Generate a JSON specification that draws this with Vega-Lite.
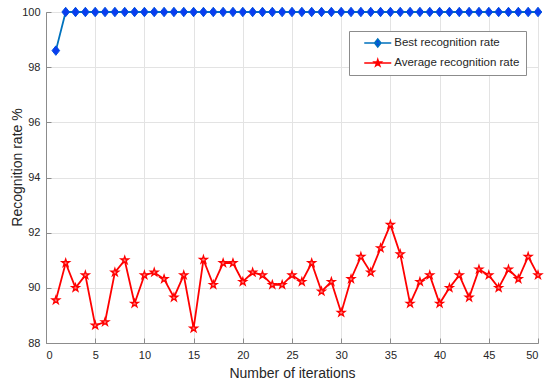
{
  "$schema": "https://vega.github.io/schema/vega-lite/v6.json",
  "width": 492,
  "height": 331,
  "autosize": {"type": "none"},
  "padding": {"left": 46, "top": 12, "right": 12, "bottom": 41},
  "background": "white",
  "config": {
    "font": "Liberation Sans",
    "view": {"stroke": "#8c8c8c", "strokeWidth": 1},
    "axis": {
      "labelFont": "Liberation Sans",
      "titleFont": "Liberation Sans",
      "labelFontSize": 11,
      "titleFontSize": 14,
      "titleFontWeight": "normal",
      "labelColor": "#262626",
      "titleColor": "#262626",
      "domainColor": "#8c8c8c",
      "tickColor": "#8c8c8c",
      "gridColor": "#e3e3e3",
      "gridOpacity": 1,
      "tickSize": -5,
      "labelPadding": 11
    }
  },
  "data": {
    "values": [
      {"iter": 1, "series": "Best recognition rate", "rate": 98.6},
      {"iter": 2, "series": "Best recognition rate", "rate": 100},
      {"iter": 3, "series": "Best recognition rate", "rate": 100},
      {"iter": 4, "series": "Best recognition rate", "rate": 100},
      {"iter": 5, "series": "Best recognition rate", "rate": 100},
      {"iter": 6, "series": "Best recognition rate", "rate": 100},
      {"iter": 7, "series": "Best recognition rate", "rate": 100},
      {"iter": 8, "series": "Best recognition rate", "rate": 100},
      {"iter": 9, "series": "Best recognition rate", "rate": 100},
      {"iter": 10, "series": "Best recognition rate", "rate": 100},
      {"iter": 11, "series": "Best recognition rate", "rate": 100},
      {"iter": 12, "series": "Best recognition rate", "rate": 100},
      {"iter": 13, "series": "Best recognition rate", "rate": 100},
      {"iter": 14, "series": "Best recognition rate", "rate": 100},
      {"iter": 15, "series": "Best recognition rate", "rate": 100},
      {"iter": 16, "series": "Best recognition rate", "rate": 100},
      {"iter": 17, "series": "Best recognition rate", "rate": 100},
      {"iter": 18, "series": "Best recognition rate", "rate": 100},
      {"iter": 19, "series": "Best recognition rate", "rate": 100},
      {"iter": 20, "series": "Best recognition rate", "rate": 100},
      {"iter": 21, "series": "Best recognition rate", "rate": 100},
      {"iter": 22, "series": "Best recognition rate", "rate": 100},
      {"iter": 23, "series": "Best recognition rate", "rate": 100},
      {"iter": 24, "series": "Best recognition rate", "rate": 100},
      {"iter": 25, "series": "Best recognition rate", "rate": 100},
      {"iter": 26, "series": "Best recognition rate", "rate": 100},
      {"iter": 27, "series": "Best recognition rate", "rate": 100},
      {"iter": 28, "series": "Best recognition rate", "rate": 100},
      {"iter": 29, "series": "Best recognition rate", "rate": 100},
      {"iter": 30, "series": "Best recognition rate", "rate": 100},
      {"iter": 31, "series": "Best recognition rate", "rate": 100},
      {"iter": 32, "series": "Best recognition rate", "rate": 100},
      {"iter": 33, "series": "Best recognition rate", "rate": 100},
      {"iter": 34, "series": "Best recognition rate", "rate": 100},
      {"iter": 35, "series": "Best recognition rate", "rate": 100},
      {"iter": 36, "series": "Best recognition rate", "rate": 100},
      {"iter": 37, "series": "Best recognition rate", "rate": 100},
      {"iter": 38, "series": "Best recognition rate", "rate": 100},
      {"iter": 39, "series": "Best recognition rate", "rate": 100},
      {"iter": 40, "series": "Best recognition rate", "rate": 100},
      {"iter": 41, "series": "Best recognition rate", "rate": 100},
      {"iter": 42, "series": "Best recognition rate", "rate": 100},
      {"iter": 43, "series": "Best recognition rate", "rate": 100},
      {"iter": 44, "series": "Best recognition rate", "rate": 100},
      {"iter": 45, "series": "Best recognition rate", "rate": 100},
      {"iter": 46, "series": "Best recognition rate", "rate": 100},
      {"iter": 47, "series": "Best recognition rate", "rate": 100},
      {"iter": 48, "series": "Best recognition rate", "rate": 100},
      {"iter": 49, "series": "Best recognition rate", "rate": 100},
      {"iter": 50, "series": "Best recognition rate", "rate": 100},
      {"iter": 1, "series": "Average recognition rate", "rate": 89.55},
      {"iter": 2, "series": "Average recognition rate", "rate": 90.9},
      {"iter": 3, "series": "Average recognition rate", "rate": 90.0},
      {"iter": 4, "series": "Average recognition rate", "rate": 90.46},
      {"iter": 5, "series": "Average recognition rate", "rate": 88.64},
      {"iter": 6, "series": "Average recognition rate", "rate": 88.76},
      {"iter": 7, "series": "Average recognition rate", "rate": 90.56},
      {"iter": 8, "series": "Average recognition rate", "rate": 91.0},
      {"iter": 9, "series": "Average recognition rate", "rate": 89.43},
      {"iter": 10, "series": "Average recognition rate", "rate": 90.46},
      {"iter": 11, "series": "Average recognition rate", "rate": 90.56},
      {"iter": 12, "series": "Average recognition rate", "rate": 90.32},
      {"iter": 13, "series": "Average recognition rate", "rate": 89.65},
      {"iter": 14, "series": "Average recognition rate", "rate": 90.46},
      {"iter": 15, "series": "Average recognition rate", "rate": 88.53},
      {"iter": 16, "series": "Average recognition rate", "rate": 91.02},
      {"iter": 17, "series": "Average recognition rate", "rate": 90.11},
      {"iter": 18, "series": "Average recognition rate", "rate": 90.9},
      {"iter": 19, "series": "Average recognition rate", "rate": 90.9},
      {"iter": 20, "series": "Average recognition rate", "rate": 90.22},
      {"iter": 21, "series": "Average recognition rate", "rate": 90.56},
      {"iter": 22, "series": "Average recognition rate", "rate": 90.46},
      {"iter": 23, "series": "Average recognition rate", "rate": 90.11},
      {"iter": 24, "series": "Average recognition rate", "rate": 90.11},
      {"iter": 25, "series": "Average recognition rate", "rate": 90.46},
      {"iter": 26, "series": "Average recognition rate", "rate": 90.22},
      {"iter": 27, "series": "Average recognition rate", "rate": 90.9},
      {"iter": 28, "series": "Average recognition rate", "rate": 89.87},
      {"iter": 29, "series": "Average recognition rate", "rate": 90.22},
      {"iter": 30, "series": "Average recognition rate", "rate": 89.1},
      {"iter": 31, "series": "Average recognition rate", "rate": 90.32},
      {"iter": 32, "series": "Average recognition rate", "rate": 91.13},
      {"iter": 33, "series": "Average recognition rate", "rate": 90.56},
      {"iter": 34, "series": "Average recognition rate", "rate": 91.44},
      {"iter": 35, "series": "Average recognition rate", "rate": 92.29},
      {"iter": 36, "series": "Average recognition rate", "rate": 91.22},
      {"iter": 37, "series": "Average recognition rate", "rate": 89.43},
      {"iter": 38, "series": "Average recognition rate", "rate": 90.22},
      {"iter": 39, "series": "Average recognition rate", "rate": 90.46},
      {"iter": 40, "series": "Average recognition rate", "rate": 89.43},
      {"iter": 41, "series": "Average recognition rate", "rate": 90.0},
      {"iter": 42, "series": "Average recognition rate", "rate": 90.46},
      {"iter": 43, "series": "Average recognition rate", "rate": 89.65},
      {"iter": 44, "series": "Average recognition rate", "rate": 90.67},
      {"iter": 45, "series": "Average recognition rate", "rate": 90.46},
      {"iter": 46, "series": "Average recognition rate", "rate": 90.0},
      {"iter": 47, "series": "Average recognition rate", "rate": 90.67},
      {"iter": 48, "series": "Average recognition rate", "rate": 90.32},
      {"iter": 49, "series": "Average recognition rate", "rate": 91.13},
      {"iter": 50, "series": "Average recognition rate", "rate": 90.46}
    ]
  },
  "encoding": {
    "x": {
      "field": "iter",
      "type": "quantitative",
      "scale": {"domain": [0, 50], "nice": false},
      "axis": {
        "title": "Number of iterations",
        "values": [0, 5, 10, 15, 20, 25, 30, 35, 40, 45, 50],
        "titleY": 34,
        "titleBaseline": "alphabetic"
      }
    },
    "y": {
      "field": "rate",
      "type": "quantitative",
      "scale": {"domain": [88, 100], "nice": false, "zero": false},
      "axis": {
        "title": "Recognition rate %",
        "values": [88, 90, 92, 94, 96, 98, 100],
        "titleX": -25,
        "titleY": 155,
        "titleBaseline": "alphabetic"
      }
    }
  },
  "layer": [
    {
      "mark": {"type": "line", "strokeWidth": 1.8},
      "encoding": {
        "color": {
          "field": "series",
          "type": "nominal",
          "sort": ["Best recognition rate", "Average recognition rate"],
          "scale": {
            "domain": ["Best recognition rate", "Average recognition rate"],
            "range": ["#0072bd", "#ff0000"]
          },
          "legend": {
            "title": null,
            "orient": "none",
            "legendX": 303,
            "legendY": 19,
            "padding": 6,
            "fillColor": "white",
            "strokeColor": "#8c8c8c",
            "labelFont": "Liberation Sans",
            "labelFontSize": 11.5,
            "labelColor": "#262626",
            "symbolSize": 100,
            "symbolStrokeWidth": 1.5,
            "symbolOffset": 16.75,
            "labelOffset": 10.5,
            "rowPadding": 6,
            "encode": {
              "symbols": {
                "update": {
                  "shape": {"signal": "datum.label === 'Best recognition rate' ? 'M-2.7,0H2.7M0,-0.8L0.64,0L0,0.8L-0.64,0Z' : 'M-2.7,0H2.7M0,-0.7L0.157,-0.216L0.666,-0.216L0.254,0.083L0.411,0.566L0,0.267L-0.411,0.566L-0.254,0.083L-0.666,-0.216L-0.157,-0.216Z'"},
                  "fill": {"signal": "datum.label === 'Best recognition rate' ? '#0a3cf0' : '#ff0000'"},
                  "stroke": {"signal": "datum.label === 'Best recognition rate' ? '#0072bd' : '#ff0000'"},
                  "fillOpacity": {"value": 1}
                }
              }
            }
          }
        }
      }
    },
    {
      "transform": [{"filter": "datum.series === 'Best recognition rate'"}],
      "mark": {
        "type": "point",
        "shape": "M0,-1L0.8,0L0,1L-0.8,0Z",
        "size": 90,
        "filled": true,
        "fill": "#0a3cf0",
        "stroke": "#0050e0",
        "strokeWidth": 1,
        "opacity": 1
      },
      "encoding": {}
    },
    {
      "transform": [{"filter": "datum.series === 'Average recognition rate'"}],
      "mark": {
        "type": "point",
        "shape": "M0,-1L0.2245,-0.309L0.951,-0.309L0.3633,0.118L0.5878,0.809L0,0.382L-0.5878,0.809L-0.3633,0.118L-0.951,-0.309L-0.2245,-0.309Z",
        "size": 64,
        "filled": true,
        "fill": "#ff8080",
        "stroke": "#ff0000",
        "strokeWidth": 1.3,
        "opacity": 1
      },
      "encoding": {}
    }
  ]
}
